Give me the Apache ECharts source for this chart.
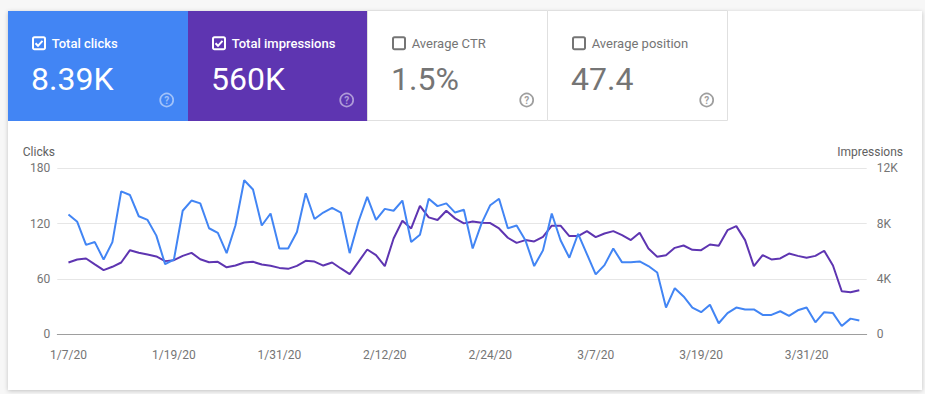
<!DOCTYPE html>
<html><head><meta charset="utf-8">
<script src="https://cdn.jsdelivr.net/npm/echarts@6/dist/echarts.min.js"></script>
<style>html,body{margin:0;padding:0;background:#f7f7f7;}#chart{width:925px;height:394px;}</style>
</head><body><div id="chart"></div>
<script>
// ---- data ----
const startDate = [2020, 0, 7];
const clicks = [130,122,97,100,81,100,155,151,128,124,107,76,81,134,145,142,115,110,88,118,
  167,157,118,131,93,93,111,153,125,132,137,132,88,122,149,124,136,134,145,100,
  108,147,139,142,132,135,93,120,140,147,115,118,102,74,91,131,102,83,109,87,
  65,75,93,78,78,79,74,67,29,50,41,29,24,32,12,23,29,27,27,21,
  21,25,20,26,29,13,24,23,9,17,15];
const impressions = [5190,5410,5480,5050,4640,4880,5190,6080,5890,5770,5630,5290,5360,5670,5890,5430,5210,5240,4840,4970,
  5190,5240,5050,4950,4800,4730,4950,5310,5260,4970,5190,4760,4350,5240,6130,5720,4930,6930,8210,7650,
  9290,8450,8260,8930,8380,8020,8160,8060,8040,7650,6980,6610,6810,6710,7050,7850,7850,7100,7100,7460,
  7030,7290,7460,7170,6810,7340,6200,5600,5720,6250,6420,6110,6080,6490,6400,7530,7820,6810,4930,5720,
  5410,5480,5840,5670,5530,5670,6040,4970,3110,3040,3190];
const tickLabels = ['1/7/20','1/19/20','1/31/20','2/12/20','2/24/20','3/7/20','3/19/20','3/31/20'];
const clicksTicks = [0, 60, 120, 180];
const impressionTicks = [0, 4000, 8000, 12000];
const cardNames = ['Total clicks','Total impressions','Average CTR','Average position'];
const cardValues = ['8.39K','560K','1.5%','47.4'];
const cardChecked = [true, true, false, false];
const cardColors = ['#4285f4','#5e35b1','#ffffff','#ffffff'];

// date categories
const dates = [];
for (let i = 0; i < clicks.length; i++) {
  const d = new Date(startDate[0], startDate[1], startDate[2] + i);
  dates.push((d.getMonth()+1) + '/' + d.getDate() + '/' + String(d.getFullYear()).slice(2));
}
const tickIdx = tickLabels.map(t => dates.indexOf(t));

const FONT = 'Roboto';
const graphic = [];
graphic.push({type:'rect', z:-10, shape:{x:8,y:11,width:914,height:379},
  style:{fill:'#ffffff', shadowBlur:4, shadowColor:'rgba(0,0,0,0.22)', shadowOffsetY:1}});
for (let k = 0; k < cardNames.length; k++) {
  const left = 8 + 180*k;
  const on = cardChecked[k];
  const fg = on ? '#ffffff' : '#757575';
  if (on) {
    graphic.push({type:'rect', z:-5, shape:{x:left,y:11,width:180,height:110}, style:{fill:cardColors[k]}});
  } else {
    graphic.push({type:'rect', z:-5, shape:{x:left-0.5,y:10.5,width:180,height:110}, style:{fill:'#ffffff', stroke:'#e0e0e0', lineWidth:1}});
  }
  graphic.push({type:'rect', shape:{x:left+25, y:37.3, width:12, height:12, r:1.5},
    style:{fill:'none', stroke:fg, lineWidth:2}});
  if (on) {
    graphic.push({type:'polyline', shape:{points:[[left+27.5,43.3],[left+30,45.8],[left+34.5,40.8]]},
      style:{fill:'none', stroke:fg, lineWidth:2}});
  }
  graphic.push({type:'text', x:left+43.7, y:43.5,
    style:{text:cardNames[k], fill:fg, font:(on?'500 ':'400 ')+'13px '+FONT,
      textAlign:'left', textVerticalAlign:'middle', align:'left', verticalAlign:'middle'}});
  graphic.push({type:'text', x:left+23, y:79,
    style:{text:cardValues[k], fill:fg, font:'400 32px '+FONT,
      textAlign:'left', textVerticalAlign:'middle', align:'left', verticalAlign:'middle'}});
  const hc = on ? 'rgba(255,255,255,0.5)' : '#9e9e9e';
  graphic.push({type:'circle', shape:{cx:left+158.7, cy:100, r:6.5}, style:{fill:'none', stroke:hc, lineWidth:1.7}});
  graphic.push({type:'text', x:left+158.7, y:100.5,
    style:{text:'?', fill:hc, font:'700 10px '+FONT, textAlign:'center', textVerticalAlign:'middle', align:'center', verticalAlign:'middle'}});
}
graphic.push({type:'text', x:55, y:152, style:{text:'Clicks', fill:'#616161', font:'400 12px '+FONT,
  textAlign:'right', textVerticalAlign:'middle', align:'right', verticalAlign:'middle'}});
graphic.push({type:'text', x:903, y:152, style:{text:'Impressions', fill:'#616161', font:'400 12px '+FONT,
  textAlign:'right', textVerticalAlign:'middle', align:'right', verticalAlign:'middle'}});

const chart = echarts.init(document.getElementById('chart'), null, {renderer:'svg'});
chart.setOption({
  animation: false,
  backgroundColor: '#f7f7f7',
  textStyle: {fontFamily: FONT},
  grid: {left: 57.3, right: 58.3, top: 168.3, bottom: 59.7},
  xAxis: {
    type: 'value', min: -1.27, max: clicks.length - 1 + 0.84,
    axisLine: {lineStyle: {color: '#9e9e9e', width: 1}},
    axisTick: {show: false},
    splitLine: {show: false},
    axisLabel: {customValues: tickIdx, formatter: v => dates[Math.round(v)], margin: 15,
      color: '#757575', fontSize: 12, fontFamily: FONT}
  },
  yAxis: [
    {type: 'value', min: clicksTicks[0], max: clicksTicks[clicksTicks.length-1], interval: clicksTicks[1]-clicksTicks[0],
      axisLine: {show: false}, axisTick: {show: false},
      splitLine: {lineStyle: {color: '#e6e6e6', width: 1}},
      axisLabel: {margin: 7, color: '#757575', fontSize: 12, fontFamily: FONT}},
    {type: 'value', min: impressionTicks[0], max: impressionTicks[impressionTicks.length-1], interval: impressionTicks[1]-impressionTicks[0],
      axisLine: {show: false}, axisTick: {show: false}, splitLine: {show: false},
      axisLabel: {margin: 10, color: '#757575', fontSize: 12, fontFamily: FONT,
        formatter: v => v === 0 ? '0' : (v/1000) + 'K'}}
  ],
  series: [
    {name: 'Impressions', type: 'line', yAxisIndex: 1, showSymbol: false, symbol: 'none',
      data: impressions.map((v, i) => [i, v]),
      lineStyle: {color: '#5e35b1', width: 2}, itemStyle: {color: '#5e35b1'}},
    {name: 'Clicks', type: 'line', yAxisIndex: 0, showSymbol: false, symbol: 'none',
      data: clicks.map((v, i) => [i, v]),
      lineStyle: {color: '#4285f4', width: 2}, itemStyle: {color: '#4285f4'}}
  ],
  graphic: graphic
});
</script></body></html>
